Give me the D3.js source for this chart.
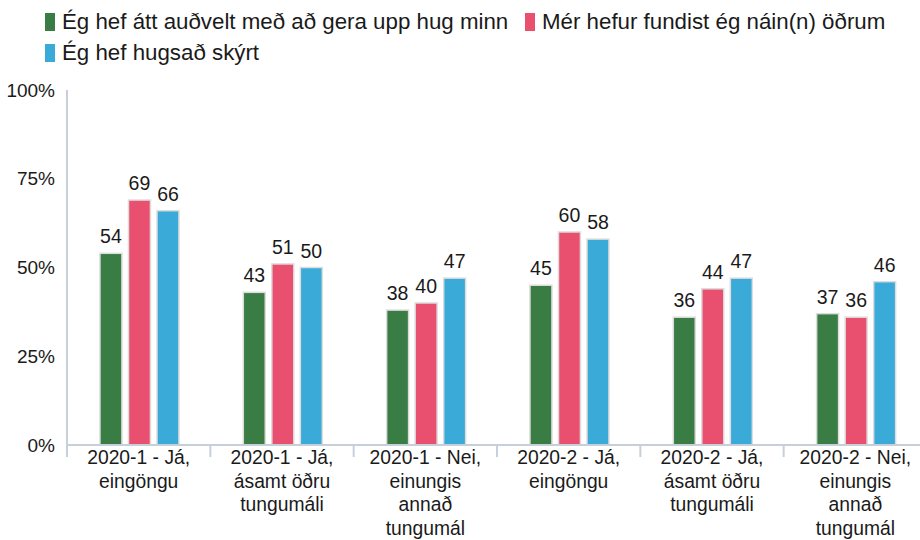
<!DOCTYPE html>
<html><head><meta charset="utf-8">
<script src="https://cdn.jsdelivr.net/npm/d3@7"></script>
<style>body{margin:0;background:#fff}svg{display:block}text{font-family:"Liberation Sans",Arial,sans-serif;fill:#1a1a1a}</style>
</head><body><svg id="c" width="920" height="540"></svg>
<script>
const categories = [
  ["2020-1 - Já,","eingöngu"],
  ["2020-1 - Já,","ásamt öðru","tungumáli"],
  ["2020-1 - Nei,","einungis","annað","tungumál"],
  ["2020-2 - Já,","eingöngu"],
  ["2020-2 - Já,","ásamt öðru","tungumáli"],
  ["2020-2 - Nei,","einungis","annað","tungumál"]
];
const seriesNames = ["Ég hef átt auðvelt með að gera upp hug minn","Mér hefur fundist ég náin(n) öðrum","Ég hef hugsað skýrt"];
const seriesColors = ["#3a7d44","#e9506f","#3aabd8"];
const s1 = [54,43,38,45,36,37];
const s2 = [69,51,40,60,44,36];
const s3 = [66,50,47,58,47,46];
const yTicks = [0,25,50,75,100];

const series = [s1,s2,s3];
const svg = d3.select("#c");
const x0 = 67, x1 = 927, yTop = 90, yBot = 445;
const gw = 79;
const x = d3.scaleBand().domain(d3.range(categories.length)).range([x0,x1]);
const xs = d3.scaleBand().domain(d3.range(3)).range([0,gw]).paddingInner(0.23);
const y = d3.scaleLinear().domain([0,100]).range([yBot,yTop]);
const axisColor = "#c6d0da";
const gx = i => x(i)+x.bandwidth()/2-gw/2+0.8;

// bars
series.forEach((vals,si)=>{
  svg.append("g").selectAll("rect").data(vals).join("rect")
    .attr("x",(d,i)=>gx(i)+xs(si))
    .attr("y",d=>y(d))
    .attr("width",xs.bandwidth())
    .attr("height",d=>yBot-y(d))
    .attr("fill",seriesColors[si])
    .attr("stroke","#dcdcdc").attr("stroke-width",1.5);
  svg.append("g").selectAll("text").data(vals).join("text")
    .attr("x",(d,i)=>gx(i)+xs(si)+xs.bandwidth()/2)
    .attr("y",d=>y(d)-10)
    .attr("text-anchor","middle").attr("font-size",19.5)
    .text(d=>d);
});

// y axis
const yAxis = d3.axisLeft(y).tickValues(yTicks).tickFormat(d=>d+"%").tickSize(0).tickPadding(12);
const gy = svg.append("g").attr("transform",`translate(${x0},0)`).call(yAxis);
gy.select(".domain").remove();
gy.selectAll("text").attr("font-size",19).attr("fill","#1a1a1a").style("font-family","Liberation Sans, Arial, sans-serif");
svg.append("line").attr("x1",x0).attr("x2",x0).attr("y1",yTop).attr("y2",yBot+12)
  .attr("stroke",axisColor).attr("stroke-width",2);

// x axis
svg.append("line").attr("x1",x0).attr("x2",x1).attr("y1",yBot).attr("y2",yBot)
  .attr("stroke",axisColor).attr("stroke-width",2);
svg.append("g").selectAll("line").data(d3.range(1,categories.length)).join("line")
  .attr("x1",i=>x(i)).attr("x2",i=>x(i)).attr("y1",yBot).attr("y2",yBot+12)
  .attr("stroke",axisColor).attr("stroke-width",2);
categories.forEach((lines,i)=>{
  const cx = x(i)+x.bandwidth()/2;
  const t = svg.append("text").attr("text-anchor","middle").attr("font-size",19.3)
    .attr("x",cx).attr("y",464);
  lines.forEach((l,k)=>t.append("tspan").attr("x",cx).attr("dy",k?23.7:0).text(l));
});

// legend
const legendPos = [[45,29],[525,29],[45,60]];
seriesNames.forEach((n,i)=>{
  const [lx,ly] = legendPos[i];
  svg.append("rect").attr("x",lx).attr("y",ly-16).attr("width",10).attr("height",18).attr("fill",seriesColors[i]);
  svg.append("text").attr("x",lx+17).attr("y",ly).attr("font-size",22.3).text(n);
});
</script></body></html>
